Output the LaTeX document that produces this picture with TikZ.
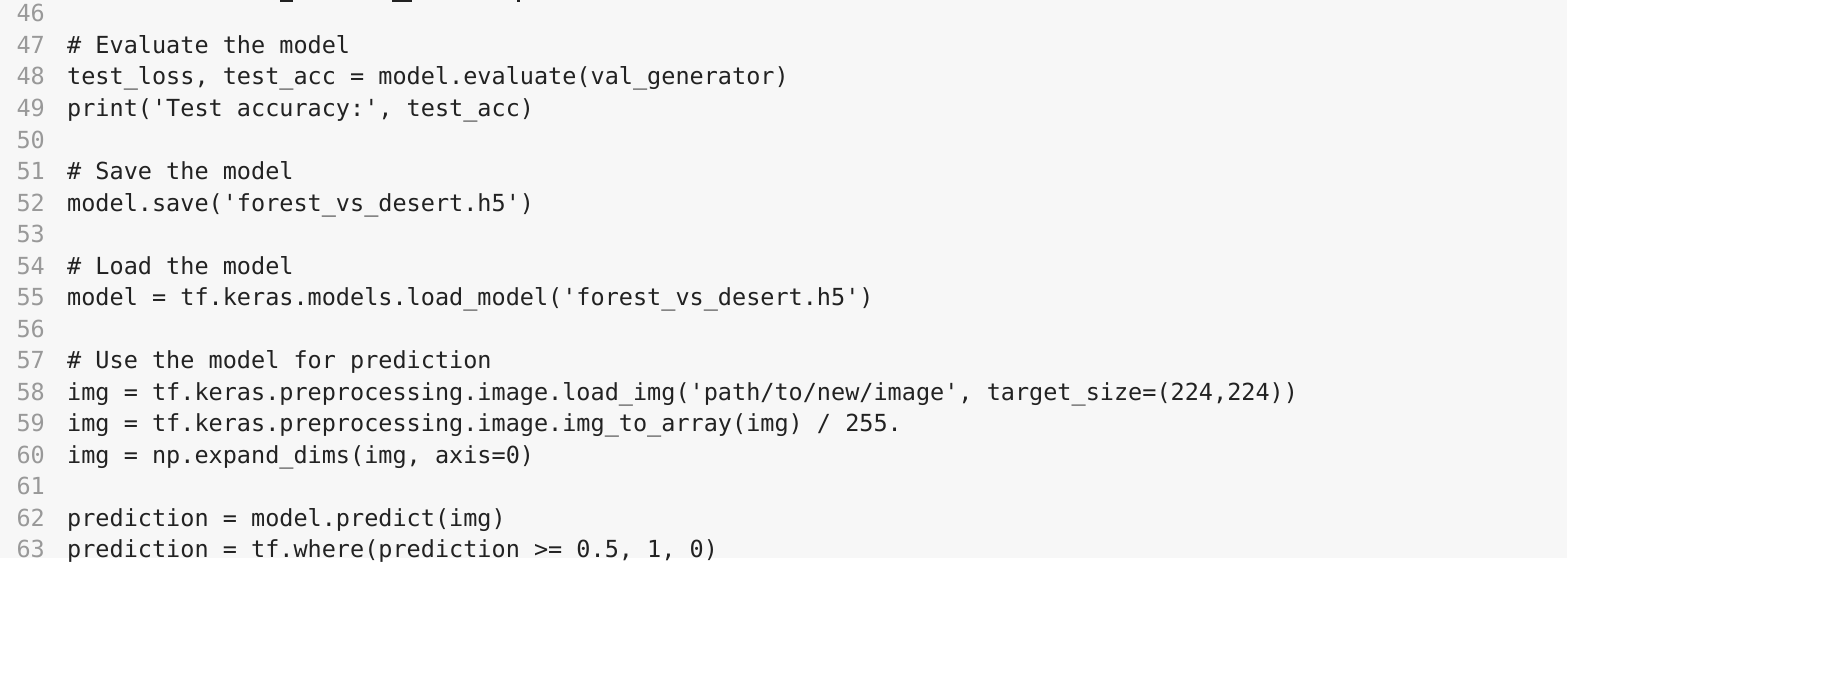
\documentclass[tikz,border=0pt]{standalone}
\usepackage{fontspec}
\setmonofont{DejaVu Sans Mono}
\definecolor{bg}{HTML}{F7F7F7}
\definecolor{num}{HTML}{999999}
\definecolor{code}{HTML}{222222}
\begin{document}
\begin{tikzpicture}[x=1pt,y=-1pt,
  ln/.style={anchor=base east,inner sep=0,text=num,font=\fontsize{23.5}{28}\ttfamily},
  cl/.style={anchor=base west,inner sep=0,text=code,font=\fontsize{23.5}{28}\ttfamily}]
\useasboundingbox (0,0) rectangle (1825,682);
\fill[white] (0,0) rectangle (1825,682);
\fill[bg] (0,0) rectangle (1567,558);
\fill[code] (280,0) rectangle (293,2);
\fill[code] (392,0) rectangle (412,2);
\fill[code] (517,0) rectangle (520,2);
\foreach \n/\t [count=\i from 0] in {
46/{},
47/{\# Evaluate the model},
48/{test\_loss, test\_acc = model.evaluate(val\_generator)},
49/{print('Test accuracy:', test\_acc)},
50/{},
51/{\# Save the model},
52/{model.save('forest\_vs\_desert.h5')},
53/{},
54/{\# Load the model},
55/{model = tf.keras.models.load\_model('forest\_vs\_desert.h5')},
56/{},
57/{\# Use the model for prediction},
58/{img = tf.keras.preprocessing.image.load\_img('path/to/new/image', target\_size=(224,224))},
59/{img = tf.keras.preprocessing.image.img\_to\_array(img) / 255.},
60/{img = np.expand\_dims(img, axis=0)},
61/{},
62/{prediction = model.predict(img)},
63/{prediction = tf.where(prediction >= 0.5, 1, 0)}}
{
  \node[ln] (n\n) at (45,{22+31.5*\i}) {\n};
  \node[cl] (c\n) at (67,{22+31.5*\i}) {\strut\t};
}
\end{tikzpicture}
\end{document}
